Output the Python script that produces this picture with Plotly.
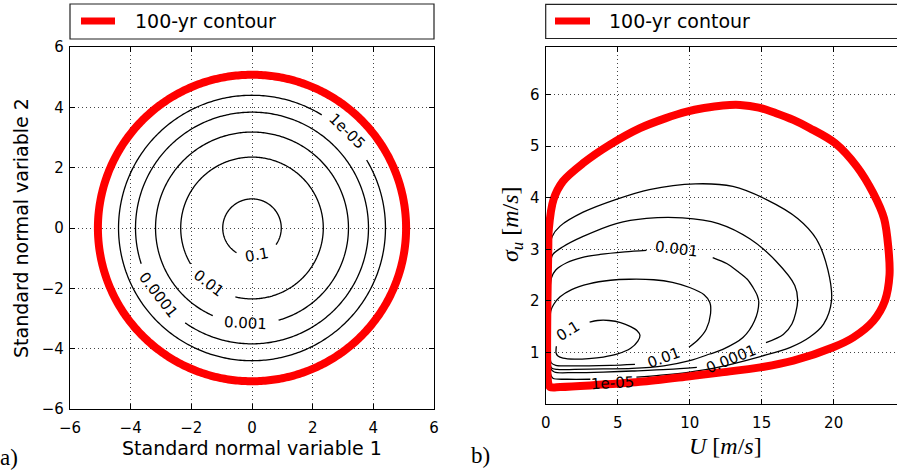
import numpy as np
import plotly.graph_objects as go

W, H = 897, 474

# ---------------- panel a) : standard normal space ----------------
levels_a = ["0.1", "0.01", "0.001", "0.0001", "1e-05"]
radii_a = [0.965, 2.35, 3.18, 3.84, 4.40]
gap_start_a = [-122, -149.5, -114, -162, 30.8]   # degrees, where line stops before label
gap_end_a = [-35, -103.5, -74, -125, 58.5]       # degrees, where line resumes after label
label_x_a = [0.15, -1.44, -0.23, -3.09, 3.12]
label_y_a = [-0.90, -1.83, -3.14, -2.22, 3.20]
label_rot_a = [-10, 38, 3, 52, 44]
radius_100yr_a = 5.08

# ---------------- panel b) : physical space (U, sigma_u) ----------------
c01_U = [3.05, 3.6, 4.4, 5.2, 5.9, 6.35, 6.55, 6.4, 5.9, 5.0, 4.0, 3.0, 2.0, 1.2, 0.85, 0.72, 0.72, 0.74]
c01_S = [1.59, 1.62, 1.62, 1.58, 1.5, 1.42, 1.33, 1.22, 1.08, 0.97, 0.91, 0.88, 0.87, 0.89, 0.93, 0.99, 1.06, 1.12]

c001_U = [9.95, 10.6, 11.15, 11.45, 11.4, 11.0, 10.0, 8.8, 7.5, 5.8, 4.5, 3.0, 1.8, 1.0, 0.55, 0.35, 0.3, 0.3, 0.38, 0.7, 1.5, 3.0, 4.5, 6.2]
c001_S = [1.10, 1.25, 1.45, 1.75, 1.97, 2.12, 2.26, 2.36, 2.41, 2.42, 2.40, 2.33, 2.22, 2.08, 1.93, 1.80, 1.50, 1.00, 0.80, 0.75, 0.74, 0.74, 0.75, 0.77]

c0001_U = [11.6, 12.6, 13.3, 14.0, 14.4, 14.7, 14.8, 14.5, 13.7, 12.3, 11.4, 10.0, 8.2, 6.0, 4.0, 2.0, 0.8, 0.4, 0.3, 0.3, 0.4, 0.7, 1.46, 2.5, 3.77, 5.5, 7.0]
c0001_S = [2.84, 2.72, 2.58, 2.42, 2.26, 2.10, 1.97, 1.61, 1.29, 1.06, 0.97, 0.84, 0.74, 0.69, 0.68, 0.67, 0.67, 0.70, 0.85, 2.20, 2.45, 2.60, 2.74, 2.84, 2.90, 2.95, 2.98]

c00001_U = [15.3, 16.5, 17.1, 17.5, 17.3, 16.0, 14.2, 12.0, 9.5, 7.0, 4.9, 2.6, 1.2, 0.5, 0.3, 0.3, 0.33, 0.6, 2.0, 4.0, 6.0, 8.5, 10.5]
c00001_S = [1.19, 1.35, 1.55, 2.00, 2.30, 2.77, 3.20, 3.50, 3.61, 3.60, 3.50, 3.25, 3.05, 2.90, 2.70, 1.00, 0.70, 0.62, 0.61, 0.62, 0.64, 0.67, 0.71]

c1e5_U = [6.3, 8.0, 10.0, 11.4, 13.0, 14.9, 17.0, 18.35, 19.3, 19.85, 19.6, 18.8, 17.5, 15.3, 13.0, 10.4, 7.2, 4.9, 2.6, 1.0, 0.45, 0.3, 0.3, 0.32, 0.5, 1.5, 3.1]
c1e5_S = [0.52, 0.56, 0.62, 0.68, 0.78, 0.92, 1.10, 1.30, 1.55, 2.00, 2.60, 3.20, 3.60, 3.97, 4.22, 4.27, 4.16, 3.97, 3.72, 3.45, 3.25, 3.00, 1.00, 0.60, 0.50, 0.48, 0.48]

red_U = [0.18, 0.18, 0.22, 0.55, 1.2, 2.6, 4.47, 6.55, 8.3, 9.8, 11.0, 12.3, 13.5, 14.8, 16.0, 17.2, 18.35, 20.1, 21.6, 22.75, 23.5, 23.8, 23.88, 23.56, 22.75, 21.36, 19.97, 17.2, 14.9, 12.1, 10.0, 6.55, 3.08, 1.0, 0.3, 0.18]
red_S = [0.40, 3.00, 3.40, 3.97, 4.32, 4.67, 5.03, 5.35, 5.54, 5.67, 5.74, 5.79, 5.80, 5.75, 5.64, 5.51, 5.35, 5.06, 4.61, 4.09, 3.60, 3.03, 2.50, 2.00, 1.61, 1.29, 1.10, 0.84, 0.71, 0.61, 0.54, 0.43, 0.36, 0.33, 0.33, 0.40]

contours_b = [(c01_U, c01_S), (c001_U, c001_S), (c0001_U, c0001_S), (c00001_U, c00001_S), (c1e5_U, c1e5_S)]
levels_b = ["0.1", "0.01", "0.001", "0.0001", "1e-05"]
label_U_b = [1.55, 8.15, 9.1, 12.9, 4.67]
label_S_b = [1.42, 0.90, 3.00, 0.87, 0.40]
label_rot_b = [-32, -20, 7, -22, -3]

legend_text = "100-yr contour"

# ---------------- figure ----------------
fig = go.Figure()
BLACK_W = 1.3
RED = "#ff0000"

for r, g0, g1 in zip(radii_a, gap_start_a, gap_end_a):
    th = np.radians(np.linspace(g1, g0 + 360, 400))
    fig.add_trace(go.Scatter(x=r * np.cos(th), y=r * np.sin(th), mode="lines",
                             line=dict(color="black", width=BLACK_W, simplify=False),
                             xaxis="x", yaxis="y", showlegend=False, hoverinfo="skip"))
th = np.radians(np.linspace(0, 360, 500))
fig.add_trace(go.Scatter(x=radius_100yr_a * np.cos(th), y=radius_100yr_a * np.sin(th), mode="lines",
                         line=dict(color=RED, width=8, simplify=False), xaxis="x", yaxis="y",
                         showlegend=False, hoverinfo="skip"))

for U, S in contours_b:
    fig.add_trace(go.Scatter(x=U, y=S, mode="lines",
                             line=dict(color="black", width=BLACK_W, shape="spline", smoothing=0.9,
                                       simplify=False),
                             xaxis="x2", yaxis="y2", showlegend=False, hoverinfo="skip"))
fig.add_trace(go.Scatter(x=red_U, y=red_S, mode="lines",
                         line=dict(color=RED, width=8, shape="spline", smoothing=0.9, simplify=False),
                         xaxis="x2", yaxis="y2", showlegend=False, hoverinfo="skip"))

ann = []
for t, x, y, a in zip(levels_a, label_x_a, label_y_a, label_rot_a):
    ann.append(dict(text=t, x=x, y=y, xref="x", yref="y", showarrow=False, textangle=a,
                    font=dict(family="DejaVu Sans", size=15, color="black")))
for t, x, y, a in zip(levels_b, label_U_b, label_S_b, label_rot_b):
    ann.append(dict(text=t, x=x, y=y, xref="x2", yref="y2", showarrow=False, textangle=a,
                    font=dict(family="DejaVu Sans", size=15, color="black")))

def px(x):
    return x / W

def py(y):
    return 1 - y / H

sans = dict(family="DejaVu Sans", size=19, color="black")
serif = dict(family="Liberation Serif", size=24, color="black")
ann += [
    dict(text="Standard normal variable 1", x=px(252), y=py(448), xref="paper", yref="paper",
         showarrow=False, font=sans, xanchor="center", yanchor="middle"),
    dict(text="Standard normal variable 2", x=px(21), y=py(228), xref="paper", yref="paper",
         showarrow=False, font=sans, textangle=-90, xanchor="center", yanchor="middle"),
    dict(text="<i>U</i> [<i>m</i>/<i>s</i>]", x=px(725), y=py(446), xref="paper", yref="paper",
         showarrow=False, font=serif, xanchor="center", yanchor="middle"),
    dict(text="<i>σ<sub>u</sub></i> [<i>m</i>/<i>s</i>]", x=px(512), y=py(224), xref="paper", yref="paper",
         showarrow=False, font=serif, textangle=-90, xanchor="center", yanchor="middle"),
    dict(text="a)", x=px(9), y=py(457), xref="paper", yref="paper", showarrow=False,
         font=dict(family="Liberation Serif", size=23, color="black"), xanchor="center", yanchor="middle"),
    dict(text="b)", x=px(480), y=py(455), xref="paper", yref="paper", showarrow=False,
         font=dict(family="Liberation Serif", size=23, color="black"), xanchor="center", yanchor="middle"),
    dict(text=legend_text, x=px(133), y=py(21.5), xref="paper", yref="paper", showarrow=False,
         font=sans, xanchor="left", yanchor="middle"),
    dict(text=legend_text, x=px(607), y=py(21.5), xref="paper", yref="paper", showarrow=False,
         font=sans, xanchor="left", yanchor="middle"),
]

shapes = [
    dict(type="rect", xref="paper", yref="paper", x0=px(70), x1=px(434), y0=py(39), y1=py(4),
         line=dict(color="#222", width=1.2), fillcolor="white", layer="below"),
    dict(type="rect", xref="paper", yref="paper", x0=px(545.7), x1=px(905), y0=py(38.5), y1=py(4.3),
         line=dict(color="#222", width=1.2), fillcolor="white", layer="below"),
    dict(type="line", xref="paper", yref="paper", x0=px(81), x1=px(115), y0=py(21), y1=py(21),
         line=dict(color=RED, width=7)),
    dict(type="line", xref="paper", yref="paper", x0=px(555), x1=px(590), y0=py(21), y1=py(21),
         line=dict(color=RED, width=7)),
]

axis_common = dict(showgrid=True, gridcolor="#444", gridwidth=1, griddash="1px,3px",
                   ticks="inside", ticklen=5, tickwidth=1, tickcolor="black",
                   showline=True, linecolor="black", linewidth=1.2, zeroline=False,
                   automargin=False,
                   tickfont=dict(family="DejaVu Sans", size=15, color="black"))

fig.update_layout(
    template="none",
    width=W, height=H, margin=dict(l=0, r=0, t=0, b=0, pad=0, autoexpand=False),
    paper_bgcolor="white", plot_bgcolor="white", showlegend=False,
    xaxis=dict(domain=[px(70), px(434)], range=[-6, 6], anchor="y", ticklabelstandoff=5,
               tickvals=[-6, -4, -2, 0, 2, 4, 6], mirror="ticks", **axis_common),
    yaxis=dict(domain=[py(409), py(47)], range=[-6, 6], anchor="x", ticklabelstandoff=2,
               tickvals=[-6, -4, -2, 0, 2, 4, 6], mirror="ticks", **axis_common),
    xaxis2=dict(domain=[px(545.7), 1.0], range=[0, 24.4], anchor="y2", ticklabelstandoff=5,
                tickvals=[0, 5, 10, 15, 20], mirror="ticks", **axis_common),
    yaxis2=dict(domain=[py(404), py(46.7)], range=[0, 6.93], anchor="x2", ticklabelstandoff=2,
                tickvals=[1, 2, 3, 4, 5, 6], mirror=False, **axis_common),
    annotations=ann, shapes=shapes,
)

fig.write_html("out.html")
